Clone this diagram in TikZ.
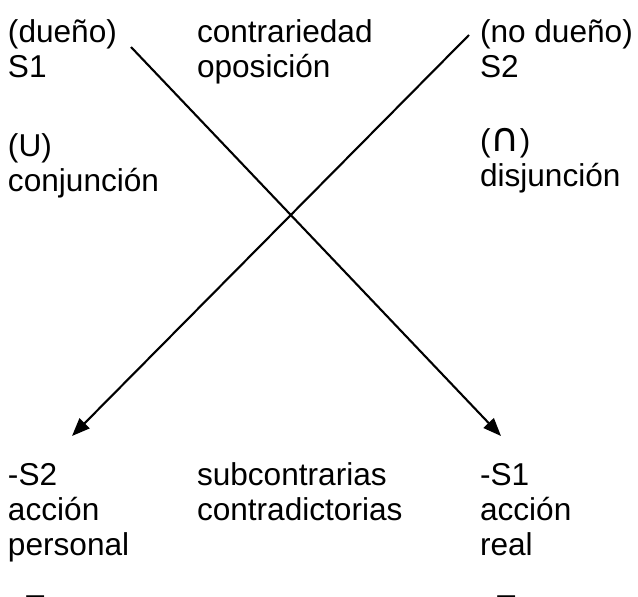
\documentclass[tikz,border=0pt]{standalone}
\usepackage{fontspec}
\setmainfont{Liberation Sans}
\newfontfamily\symfont{DejaVu Sans}
\usetikzlibrary{arrows.meta}
\tikzset{
  lbl/.style={inner sep=0pt, outer sep=0pt, anchor=base west, font=\fontsize{31.6}{35}\selectfont},
  conn/.style={line width=2.1pt, -{Triangle[length=18pt,width=14pt]}}
}
\newcommand{\blk}[1]{\begin{tabular}[t]{@{}l@{}}#1\end{tabular}}
\begin{document}
\begin{tikzpicture}[x=1pt,y=-1pt]
\useasboundingbox (0,0) rectangle (638,597);
\node[lbl] (s1) at (8,42) {\blk{(dueño)\\S1}};
\node[lbl] (top) at (197,42) {\blk{contrariedad\\oposición}};
\node[lbl] (s2) at (480,42) {\blk{(no dueño)\\S2}};
\node[lbl] (conj) at (8,156) {\blk{(U)\\conjunción}};
\node[lbl] (disj) at (480,151) {\blk{({\symfont\fontsize{40}{35}\selectfont ∩})\\disjunción}};
\node[lbl] (ns2) at (8,485) {\blk{-S2\\acción\\personal}};
\node[lbl] (bot) at (197,485) {\blk{subcontrarias\\contradictorias}};
\node[lbl] (ns1) at (480,485) {\blk{-S1\\acción\\real}};
\begin{scope}
\clip (0,0) rectangle (638,597);
\node[lbl] (t1) at (25.5,617.6) {T};
\node[lbl] (t2) at (496.5,617.6) {T};
\end{scope}
\coordinate (a1) at (131,47);
\coordinate (b1) at (501,436);
\coordinate (a2) at (469,35);
\coordinate (b2) at (72,436);
\draw[conn] (a1) -- (b1);
\draw[conn] (a2) -- (b2);
\end{tikzpicture}
\end{document}
